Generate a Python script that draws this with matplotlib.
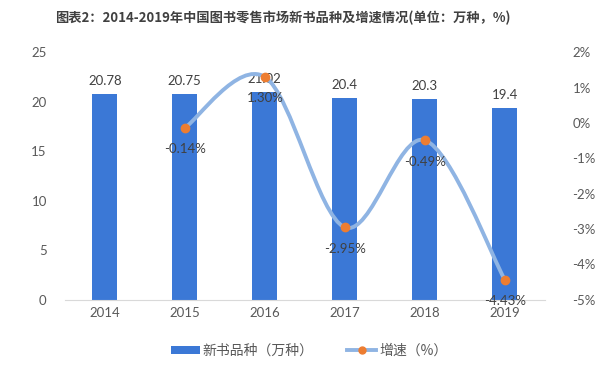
import numpy as np
import matplotlib
matplotlib.use("Agg")
import matplotlib.pyplot as plt
from matplotlib.path import Path
from matplotlib.patches import PathPatch
from matplotlib.lines import Line2D
from matplotlib.patches import Patch

plt.rcParams['font.family'] = ['Lato', 'Noto Sans CJK SC', 'DejaVu Sans']

years = ['2014', '2015', '2016', '2017', '2018', '2019']
new_titles = [20.78, 20.75, 21.02, 20.4, 20.3, 19.4]
growth_years = ['2015', '2016', '2017', '2018', '2019']
growth = [-0.14, 1.30, -2.95, -0.49, -4.43]
growth_labels = ['-0.14%', '1.30%', '-2.95%', '-0.49%', '-4.43%']
left_ticks = [0, 5, 10, 15, 20, 25]
right_ticks = [2, 1, 0, -1, -2, -3, -4, -5]

title = '图表2：2014-2019年中国图书零售市场新书品种及增速情况(单位：万种，%)'
bar_name = '新书品种（万种）'
line_name = '增速（%）'

bar_color = '#3b78d6'
line_color = '#8fb4e3'
marker_color = '#ed7d31'
text_color = '#595959'

fig = plt.figure(figsize=(6, 3.67), dpi=100)
ax = fig.add_axes([0.108, 0.183, 0.8, 0.675])
x = np.arange(len(years))
ax.bar(x, new_titles, width=0.31, color=bar_color, zorder=2)
for xi, v in zip(x, new_titles):
    ax.annotate(f'{v:g}', (xi, v), xytext=(0, 5), textcoords='offset points',
                ha='center', va='bottom', fontsize=9.5, color='#404040')
ax.set_xlim(-0.5, len(years) - 0.5)
ax.set_ylim(0, 25)
ax.set_yticks(left_ticks)
ax.set_xticks(x)
ax.set_xticklabels(years)
for s in ['top', 'right', 'left']:
    ax.spines[s].set_visible(False)
ax.spines['bottom'].set_color('#d9d9d9')
ax.tick_params(axis='both', length=0, colors=text_color, labelsize=9.5)
ax.tick_params(axis='y', pad=13)
ax.tick_params(axis='x', pad=5)

ax2 = ax.twinx()
ax2.set_ylim(-5, 2)
ax2.set_yticks(right_ticks)
ax2.set_yticklabels([f'{t}%' for t in right_ticks])
for s in ax2.spines.values():
    s.set_visible(False)
ax2.tick_params(axis='y', length=0, colors=text_color, labelsize=9.5, pad=20)

gx = np.array([years.index(y) for y in growth_years], dtype=float)
gy = np.array(growth)
# Excel-style smoothed line (Catmull-Rom Bezier through the points)
verts = [(gx[0], gy[0])]
codes = [Path.MOVETO]
n = len(gx)
for i in range(n - 1):
    p0 = np.array([gx[max(i - 1, 0)], gy[max(i - 1, 0)]])
    p1 = np.array([gx[i], gy[i]])
    p2 = np.array([gx[i + 1], gy[i + 1]])
    p3 = np.array([gx[min(i + 2, n - 1)], gy[min(i + 2, n - 1)]])
    c1 = p1 + (p2 - p0) / 6
    c2 = p2 - (p3 - p1) / 6
    verts += [tuple(c1), tuple(c2), tuple(p2)]
    codes += [Path.CURVE4] * 3
ax2.add_patch(PathPatch(Path(verts, codes), fill=False, edgecolor=line_color,
                        lw=2.8, zorder=3, capstyle='round'))
ax2.plot(gx, gy, 'o', color=marker_color, ms=6, zorder=4)
for xi, v, lab in zip(gx, gy, growth_labels):
    ax2.annotate(lab, (xi, v), xytext=(0, -11), textcoords='offset points',
                 ha='center', va='top', fontsize=9.5, color='#404040', zorder=5)

fig.text(0.092, 0.952, title, ha='left', va='center', fontsize=9.5,
         fontweight='bold', color='#404040',
         family=['Noto Sans CJK SC', 'DejaVu Sans'])

handles = [Patch(facecolor=bar_color, edgecolor='none'),
           Line2D([0], [0], color=line_color, lw=2.8, marker='o',
                  markerfacecolor=marker_color, markeredgecolor=marker_color, ms=5)]
fig.legend(handles, [bar_name, line_name], loc='center', bbox_to_anchor=(0.515, 0.045),
           ncol=2, frameon=False, labelcolor=text_color,
           handlelength=2.1, handleheight=0.5, columnspacing=2.4, handletextpad=0.2,
           prop={'family': ['Noto Sans CJK SC', 'DejaVu Sans'], 'size': 10})

fig.savefig('out.png', dpi=100, facecolor='white')
